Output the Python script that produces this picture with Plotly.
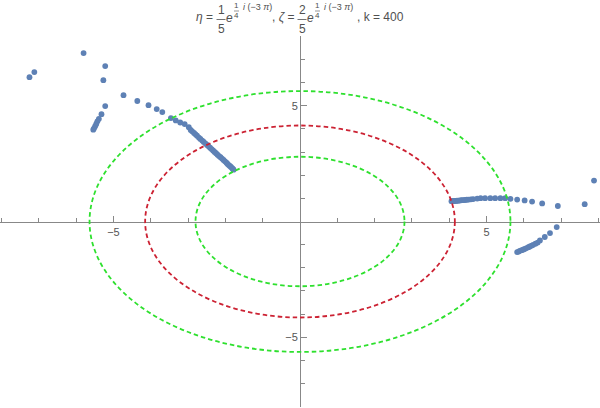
import plotly.graph_objects as go

# ---- data ----
upper_left_x = [-7.25, -7.12, -5.80, -5.22, -5.27, -5.22, -5.32,
                -5.39, -5.43, -5.46, -5.49, -5.52, -5.54,
                -4.73, -4.36, -4.06, -3.84, -3.69, -3.46, -3.33, -3.21, -3.09, -2.98]
upper_left_y = [6.24, 6.46, 7.28, 6.72, 6.11, 4.99, 4.64,
                4.44, 4.33, 4.22, 4.12, 4.03, 3.97,
                5.46, 5.21, 5.03, 4.86, 4.73, 4.47, 4.37, 4.28, 4.21, 4.08]

dense_left_x = [-2.93, -2.89, -2.84, -2.80, -2.76, -2.71, -2.67, -2.62, -2.58, -2.53,
                -2.49, -2.45, -2.41, -2.37, -2.33, -2.29, -2.25, -2.21, -2.17, -2.13,
                -2.09, -2.05, -2.01, -1.97, -1.94, -1.91, -1.88, -1.85, -1.82, -1.80, -1.78]
dense_left_y = [3.96, 3.90, 3.83, 3.77, 3.71, 3.63, 3.57, 3.50, 3.44, 3.37,
                3.31, 3.25, 3.19, 3.13, 3.07, 3.01, 2.95, 2.89, 2.83, 2.78,
                2.72, 2.66, 2.60, 2.54, 2.49, 2.44, 2.40, 2.36, 2.31, 2.27, 2.24]

right_upper_x = [7.88, 7.63, 6.91, 6.49, 6.22, 6.02, 5.82, 5.64, 5.50, 5.37, 5.23, 5.10,
                 4.96, 4.84, 4.75, 4.64, 4.58, 4.52, 4.47, 4.42, 4.37, 4.33, 4.29, 4.25,
                 4.21, 4.18, 4.15, 4.12, 4.10, 4.08, 4.06]
right_upper_y = [1.77, 0.75, 0.67, 0.78, 0.86, 0.91, 0.95, 0.98, 1.01, 1.01, 1.01, 1.01,
                 1.01, 1.01, 0.99, 0.97, 0.96, 0.95, 0.94, 0.93, 0.92, 0.92, 0.91, 0.90,
                 0.90, 0.89, 0.89, 0.88, 0.88, 0.88, 0.88]

right_lower_x = [6.88, 6.70, 6.56, 6.43, 6.37, 6.31, 6.25, 6.21, 6.16, 6.12, 6.07,
                 6.03, 5.99, 5.94, 5.89, 5.86, 5.82]
right_lower_y = [-0.24, -0.50, -0.67, -0.82, -0.91, -0.96, -1.01, -1.04, -1.08, -1.11, -1.15,
                 -1.18, -1.21, -1.24, -1.27, -1.30, -1.32]

circle_radii = [2.8, 4.15, 5.64]
circle_colors = ["#2ee02e", "#cc2233", "#2ee02e"]

major_ticks = [-5, 5]
major_labels = ["\u22125", "5"]
minor_ticks = [-8, -7, -6, -4, -3, -2, -1, 1, 2, 3, 4, 6, 7, 8]

# ---- figure ----
all_x = upper_left_x + dense_left_x + right_upper_x + right_lower_x
all_y = upper_left_y + dense_left_y + right_upper_y + right_lower_y

fig = go.Figure()
fig.add_trace(go.Scatter(
    x=all_x, y=all_y, mode="markers",
    marker=dict(color="#5E81B5", size=5.8, line=dict(width=0)),
    hoverinfo="skip", showlegend=False))

for r, c in zip(circle_radii, circle_colors):
    fig.add_shape(type="circle", xref="x", yref="y", x0=-r, x1=r, y0=-r, y1=r,
                  line=dict(color=c, width=1.8, dash="4.5px,3px"), layer="above")

axis_common = dict(
    showgrid=False, zeroline=False, showline=True, linecolor="#888888", linewidth=1,
    ticks="inside", ticklen=6, tickwidth=1, tickcolor="#888888",
    tickvals=major_ticks, ticktext=major_labels,
    tickfont=dict(family="Liberation Sans, Arial, sans-serif", size=11, color="#555555"),
    minor=dict(tickvals=minor_ticks, ticks="inside", ticklen=3.5, tickcolor="#888888", tickwidth=1),
    anchor="free", position=0.5, fixedrange=True, automargin=False,
)

W, H = 600, 408
T, B = 36, 1
fig.update_layout(
    width=W, height=H,
    margin=dict(l=0, r=0, t=T, b=B, autoexpand=False),
    paper_bgcolor="white", plot_bgcolor="white",
    xaxis=dict(range=[-8.04, 8.04], **axis_common),
    yaxis=dict(range=[-8.02, 8.02], **axis_common),
)

# ---- title built from pieces ----
ph = H - T - B

def px(x):
    return x / W

def py(y):
    return (H - B - y) / ph

txt_col = "#505050"
fam = "Liberation Sans, Arial, sans-serif"

def ann(x, y, text, size=12, xanchor="center"):
    fig.add_annotation(xref="paper", yref="paper", x=px(x), y=py(y), text=text,
                       showarrow=False, xanchor=xanchor, yanchor="middle",
                       font=dict(family=fam, size=size, color=txt_col))

def bar(x0, x1, y, w=0.8):
    fig.add_shape(type="line", xref="paper", yref="paper", x0=px(x0), x1=px(x1),
                  y0=py(y), y1=py(y), line=dict(color=txt_col, width=w))

ann(204, 17, "<i>\u03b7</i> =")
ann(221, 10, "1"); ann(221, 29, "5"); bar(216.5, 225.5, 19.5)
ann(229.5, 18, "<i>e</i>")
ann(236.5, 6, "1", size=8); ann(236.5, 16, "4", size=8); bar(234, 239, 11, 0.6)
ann(241, 7, "<i>i</i> (\u22123 <i>\u03c0</i>)", size=9, xanchor="left")
ann(283, 17, ", <i>\u03b6</i> =")
ann(302, 10, "2"); ann(302, 29, "5"); bar(297.5, 306.5, 19.5)
ann(310.5, 18, "<i>e</i>")
ann(317.5, 6, "1", size=8); ann(317.5, 16, "4", size=8); bar(315, 320, 11, 0.6)
ann(322, 7, "<i>i</i> (\u22123 <i>\u03c0</i>)", size=9, xanchor="left")
ann(355, 17, ", k = 400", xanchor="left")

fig.write_html("out.html", config={"displayModeBar": False},
               post_script="document.body.style.margin='0';")
